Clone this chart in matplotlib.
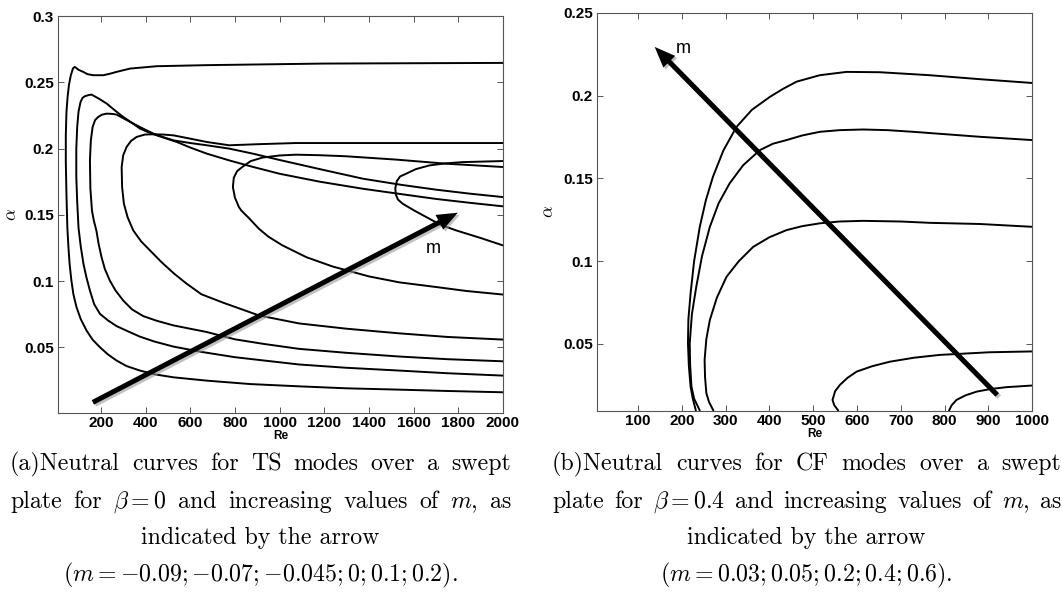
import matplotlib
matplotlib.use("Agg")
import matplotlib.pyplot as plt
import matplotlib.patheffects as pe
from matplotlib import font_manager

plt.rcParams["mathtext.fontset"] = "cm"

# ---- (a) TS modes, beta = 0 : neutral curves (Re, alpha) ----
ts_m = [-0.09, -0.07, -0.045, 0.0, 0.1, 0.2]

ts_re_m009 = [2000, 1750, 1536, 1300, 1087, 870, 674, 525, 440, 375, 315, 270, 230, 196,
              163, 136, 110, 91, 77, 68, 60, 55, 50, 46, 43, 43, 46, 51, 57, 65, 75, 83,
              100, 121, 140, 166, 211, 240, 270, 330, 450, 674, 1200, 2000]
ts_al_m009 = [0.016, 0.017, 0.018, 0.019, 0.0205, 0.0222, 0.0248, 0.0273, 0.0296, 0.0324,
              0.0358, 0.040, 0.0448, 0.050, 0.0557, 0.0626, 0.0712, 0.0802, 0.090, 0.1004,
              0.113, 0.125, 0.140, 0.165, 0.190, 0.210, 0.228, 0.239, 0.248, 0.255, 0.2605,
              0.2617, 0.2595, 0.2579, 0.2562, 0.2554, 0.2554, 0.2565, 0.2579, 0.2604, 0.2622,
              0.2630, 0.2642, 0.2647]

ts_re_m007 = [2000, 1750, 1536, 1300, 1087, 930, 800, 650, 525, 440, 375, 315, 270, 230,
              196, 170, 151, 135, 122, 110, 100, 94, 90, 90, 94, 100, 109, 118, 128, 145,
              158, 190, 226, 260, 300, 340, 375, 410, 450, 540, 600, 674, 774, 880, 1000,
              1180, 1372, 1550, 1700, 1850, 2000]
ts_al_m007 = [0.0286, 0.0304, 0.0324, 0.0345, 0.037, 0.040, 0.0425, 0.0465, 0.0505, 0.0543,
              0.058, 0.0625, 0.066, 0.0705, 0.0752, 0.0825, 0.0928, 0.103, 0.113, 0.126,
              0.140, 0.160, 0.1785, 0.200, 0.2163, 0.228, 0.2352, 0.2383, 0.2395, 0.2404,
              0.2408, 0.2378, 0.234, 0.2292, 0.2239, 0.2193, 0.2151, 0.2125, 0.210, 0.205,
              0.2008, 0.1962, 0.1911, 0.1862, 0.181, 0.175, 0.1697, 0.1655, 0.162, 0.1591,
              0.1564]

ts_re_m0045 = [2000, 1750, 1536, 1300, 1087, 930, 800, 720, 674, 525, 450, 390, 340, 300,
               265, 240, 218, 203, 190, 180, 168, 160, 153, 151, 155, 163, 174, 188, 205,
               226, 250, 270, 305, 345, 390, 435, 480, 525, 600, 674, 774, 880, 1000, 1180,
               1372, 1550, 1700, 1850, 2000]
ts_al_m0045 = [0.0394, 0.041, 0.043, 0.0458, 0.0488, 0.0525, 0.056, 0.0595, 0.0615, 0.0665,
               0.070, 0.0735, 0.0785, 0.0853, 0.093, 0.1004, 0.109, 0.118, 0.128, 0.138,
               0.146, 0.1533, 0.170, 0.1911, 0.206, 0.2163, 0.2215, 0.2239, 0.2256, 0.2264,
               0.2262, 0.2257, 0.2225, 0.2189, 0.215, 0.2113, 0.2086, 0.2062, 0.2042,
               0.2025, 0.200, 0.1962, 0.1914, 0.1845, 0.1773, 0.1725, 0.169, 0.166, 0.1634]

ts_re_m0 = [2000, 1750, 1536, 1300, 1087, 908, 750, 650, 580, 525, 470, 420, 380, 345,
            320, 303, 295, 293, 300, 315, 335, 360, 397, 435, 480, 525, 600, 674, 774,
            900, 1073, 1500, 2000]
ts_al_m0 = [0.0558, 0.0578, 0.0605, 0.064, 0.068, 0.074, 0.0835, 0.090, 0.0985, 0.106,
            0.1145, 0.1231, 0.130, 0.1382, 0.148, 0.1584, 0.171, 0.1861, 0.195, 0.2012,
            0.2058, 0.2088, 0.2106, 0.2108, 0.2106, 0.210, 0.2075, 0.205, 0.2025, 0.2033,
            0.2042, 0.2042, 0.2042]

ts_re_m01 = [2000, 1836, 1700, 1536, 1400, 1237, 1120, 1012, 950, 908, 860, 830, 818, 800,
             791, 795, 810, 833, 870, 923, 1000, 1073, 1180, 1297, 1521, 1746, 2000]
ts_al_m01 = [0.0898, 0.0925, 0.0955, 0.099, 0.1035, 0.111, 0.118, 0.127, 0.1335, 0.1394,
             0.148, 0.153, 0.1558, 0.163, 0.171, 0.178, 0.183, 0.1861, 0.1905, 0.1932,
             0.1948, 0.1954, 0.195, 0.1942, 0.1917, 0.1886, 0.1861]

ts_re_m02 = [2000, 1900, 1791, 1720, 1671, 1600, 1551, 1530, 1520, 1518, 1525, 1540, 1566,
             1610, 1671, 1740, 1820, 2000]
ts_al_m02 = [0.1269, 0.1325, 0.1382, 0.1425, 0.147, 0.1535, 0.1584, 0.1615, 0.1655, 0.170,
             0.1755, 0.179, 0.181, 0.1845, 0.1873, 0.1888, 0.1898, 0.1906]

ts_arrow_tail = (164, 0.0084)
ts_arrow_tip = (1798, 0.1516)
ts_m_label = (1686, 0.1244)

# ---- (b) CF modes, beta = 0.4 ----
cf_m = [0.03, 0.05, 0.2, 0.4, 0.6]

cf_re_m06 = [232, 225, 220, 216, 214, 215, 220, 228, 241, 255, 271, 295, 325, 360, 401,
             430, 462, 515, 576, 652, 766, 880, 1000]
cf_al_m06 = [0.0098, 0.017, 0.0242, 0.037, 0.0506, 0.065, 0.0806, 0.100, 0.1208, 0.137,
             0.151, 0.167, 0.1812, 0.1915, 0.1993, 0.204, 0.2085, 0.2124, 0.2144, 0.2142,
             0.2124, 0.210, 0.2077]

cf_re_m04 = [241, 228, 222, 219, 218, 223, 233, 246, 264, 284, 309, 340, 378, 408, 439,
             475, 515, 560, 614, 670, 728, 880, 1000]
cf_al_m04 = [0.0098, 0.017, 0.0242, 0.037, 0.0504, 0.068, 0.0846, 0.103, 0.1208, 0.135,
             0.147, 0.158, 0.1671, 0.171, 0.1732, 0.176, 0.1782, 0.1792, 0.1796, 0.1792,
             0.1782, 0.1752, 0.1732]

cf_re_m02 = [272, 262, 256, 253, 252, 256, 264, 280, 302, 330, 363, 400, 439, 475, 515,
             560, 614, 700, 766, 880, 1000]
cf_al_m02 = [0.0098, 0.015, 0.0203, 0.030, 0.0404, 0.053, 0.0645, 0.078, 0.0906, 0.100,
             0.1087, 0.1145, 0.1188, 0.1212, 0.1229, 0.124, 0.1244, 0.124, 0.1232, 0.1225,
             0.1208]

cf_re_m005 = [557, 548, 544, 550, 561, 578, 599, 635, 675, 730, 789, 903, 1000]
cf_al_m005 = [0.0098, 0.013, 0.0162, 0.0215, 0.0253, 0.0295, 0.0333, 0.0366, 0.0393,
              0.0417, 0.0434, 0.045, 0.0455]

cf_re_m003 = [810, 816, 827, 848, 873, 905, 941, 1000]
cf_al_m003 = [0.0098, 0.013, 0.0162, 0.019, 0.0212, 0.0228, 0.0239, 0.0249]

cf_arrow_tail = (920, 0.0192)
cf_arrow_tip = (138, 0.2295)
cf_m_label = (203, 0.2285)

ts_xticks = [200, 400, 600, 800, 1000, 1200, 1400, 1600, 1800, 2000]
ts_yticks = [0.05, 0.1, 0.15, 0.2, 0.25, 0.3]
ts_yticklabels = ["0.05", "0.1", "0.15", "0.2", "0.25", "0.3"]
cf_xticks = [100, 200, 300, 400, 500, 600, 700, 800, 900, 1000]
cf_yticks = [0.05, 0.1, 0.15, 0.2, 0.25]
cf_yticklabels = ["0.05", "0.1", "0.15", "0.2", "0.25"]

# caption lines: first two are justified word by word, last two centred
caption_a_words = [
    ["(a)Neutral", "curves", "for", "TS", "modes", "over", "a", "swept"],
    ["plate", "for", r"$\beta = 0$", "and", "increasing", "values", "of", r"$m$,", "as"],
]
caption_a_tail = [
    "indicated by the arrow",
    r"$(m = -0.09; {-}0.07; {-}0.045; 0; 0.1; 0.2)$.",
]
caption_b_words = [
    ["(b)Neutral", "curves", "for", "CF", "modes", "over", "a", "swept"],
    ["plate", "for", r"$\beta = 0.4$", "and", "increasing", "values", "of", r"$m$,", "as"],
]
caption_b_tail = [
    "indicated by the arrow",
    r"$(m = 0.03; 0.05; 0.2; 0.4; 0.6)$.",
]

available = {f.name for f in font_manager.fontManager.ttflist}
if "Liberation Sans Narrow" in available:
    TICK_FONT = dict(family="Liberation Sans Narrow", weight="bold", size=12)
else:
    TICK_FONT = dict(family="Liberation Sans", weight="bold", size=11)
EDGE = "#555555"
CAP_SIZE = 17.2


def style_axes(ax, xticks, yticks, yticklabels, ylab_x):
    ax.set_xticks(xticks)
    ax.set_xticklabels([str(t) for t in xticks], **TICK_FONT)
    ax.set_yticks(yticks)
    ax.set_yticklabels(yticklabels, **TICK_FONT)
    ax.tick_params(direction="in", length=4, width=0.7, color=EDGE,
                   top=True, right=True, pad=3)
    ax.tick_params(axis="x", pad=2)
    for s in ax.spines.values():
        s.set_color(EDGE)
        s.set_linewidth(0.8)
    ax.set_xlabel("Re", family="Liberation Sans", weight="bold", fontsize=8.5)
    ax.xaxis.set_label_coords(0.5, -0.043)
    ax.xaxis.label.set_va("top")
    ax.set_ylabel(r"$\alpha$", fontsize=13)
    ax.yaxis.set_label_coords(ylab_x, 0.5)


def draw_arrow(ax, tail, tip):
    ax.annotate("", xy=tip, xytext=tail,
                arrowprops=dict(width=3.6, headwidth=12, headlength=15,
                                facecolor="black", edgecolor="black", lw=0,
                                shrink=0,
                                path_effects=[pe.SimplePatchShadow(offset=(1.5, -1.5),
                                                                   shadow_rgbFace="0.6",
                                                                   alpha=0.6),
                                              pe.Normal()]))


def justified(fig, words, x0, x1, yb):
    renderer = fig.canvas.get_renderer()
    texts = [fig.text(0, yb, w, family="cmr10", fontsize=CAP_SIZE, va="baseline")
             for w in words]
    widths = [t.get_window_extent(renderer).width for t in texts]
    gap = ((x1 - x0) - sum(widths)) / (len(words) - 1)
    x = x0
    for t, w in zip(texts, widths):
        t.set_x(x / fig.bbox.width)
        x += w + gap


fig = plt.figure(figsize=(10.62, 5.98), dpi=100)
ax1 = fig.add_axes([0.0546, 0.309, 0.419, 0.664])
ax2 = fig.add_axes([0.562, 0.3127, 0.41, 0.6656])

line_kw = dict(color="black", lw=1.4, solid_joinstyle="round", solid_capstyle="round")
for re_, al_ in [(ts_re_m009, ts_al_m009), (ts_re_m007, ts_al_m007),
                 (ts_re_m0045, ts_al_m0045), (ts_re_m0, ts_al_m0),
                 (ts_re_m01, ts_al_m01), (ts_re_m02, ts_al_m02)]:
    ax1.plot(re_, al_, **line_kw)
ax1.set_xlim(8, 2000)
ax1.set_ylim(0.0002, 0.3)
style_axes(ax1, ts_xticks, ts_yticks, ts_yticklabels, -0.085)
draw_arrow(ax1, ts_arrow_tail, ts_arrow_tip)
ax1.text(*ts_m_label, "m", family="Liberation Sans", fontsize=13,
         ha="center", va="center")

for re_, al_ in [(cf_re_m06, cf_al_m06), (cf_re_m04, cf_al_m04), (cf_re_m02, cf_al_m02),
                 (cf_re_m005, cf_al_m005), (cf_re_m003, cf_al_m003)]:
    ax2.plot(re_, al_, **line_kw)
ax2.set_xlim(6, 1000)
ax2.set_ylim(0.0095, 0.25)
style_axes(ax2, cf_xticks, cf_yticks, cf_yticklabels, -0.092)
draw_arrow(ax2, cf_arrow_tail, cf_arrow_tip)
ax2.text(*cf_m_label, "m", family="Liberation Sans", fontsize=13,
         ha="center", va="center")

# captions (serif, LaTeX-like)
baselines = [0.214, 0.1505, 0.0903, 0.0284]
for words_list, tail, x0, x1 in [(caption_a_words, caption_a_tail, 10, 511),
                                  (caption_b_words, caption_b_tail, 552, 1061)]:
    for words, yb in zip(words_list, baselines[:2]):
        justified(fig, words, x0, x1, yb)
    xc = (x0 + x1) / 2 / fig.bbox.width
    for line, yb in zip(tail, baselines[2:]):
        fig.text(xc, yb, line, family="cmr10", fontsize=CAP_SIZE,
                 ha="center", va="baseline")

fig.savefig("out.png", dpi=100)
